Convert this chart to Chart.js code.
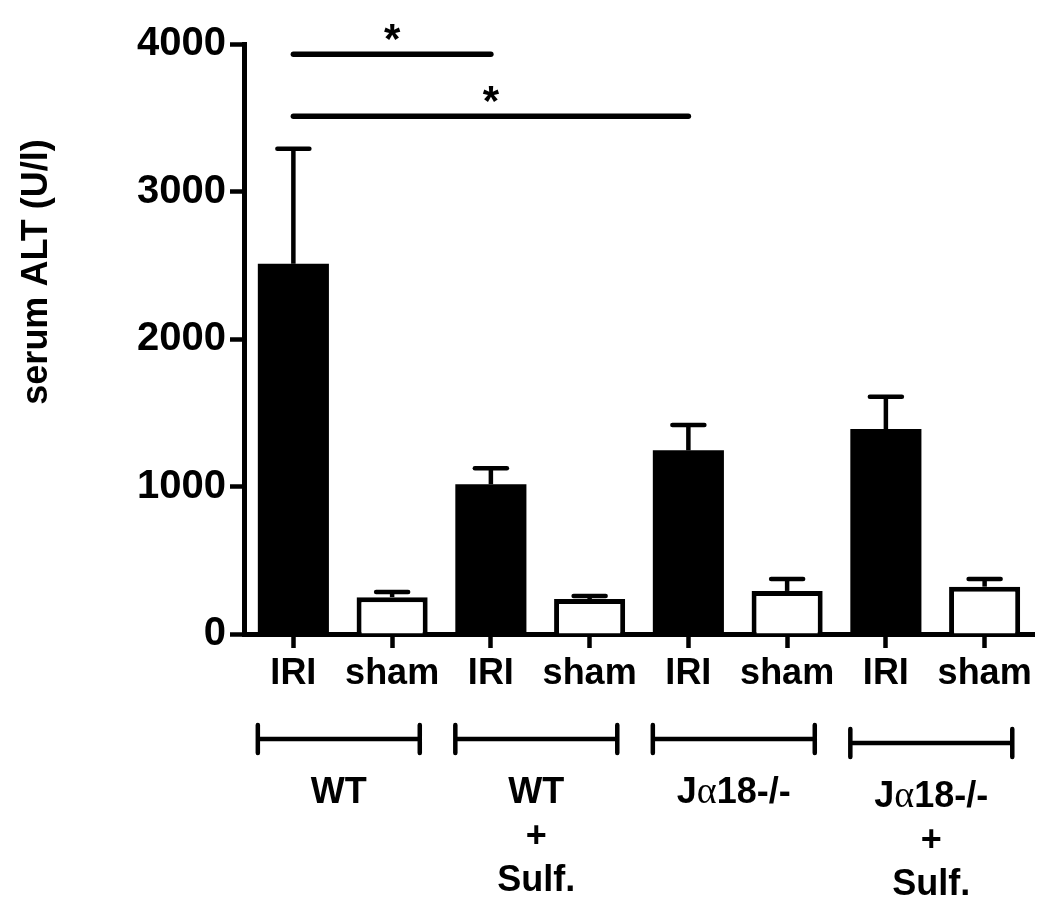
<!DOCTYPE html>
<html>
<head>
<meta charset="utf-8">
<script src="https://cdn.jsdelivr.net/npm/chart.js@4"></script>
<style>
  html, body { margin: 0; padding: 0; background: #fff; }
  canvas { display: block; }
</style>
</head>
<body>
<canvas id="altChart" width="1050" height="906"></canvas>
<script>
// bar labels, means and upper SEM of serum ALT
const categories = ['IRI', 'sham', 'IRI', 'sham', 'IRI', 'sham', 'IRI', 'sham'];
const meanALT = [2510, 250, 1015, 237, 1245, 292, 1390, 321];
const semALT = [780, 35, 108, 21, 172, 81, 219, 52];
const yTicks = [0, 1000, 2000, 3000, 4000];

// group brackets under the axis
const groupNames = [['WT'], ['WT', '+', 'Sulf.'], ['Jα18-/-'], ['Jα18-/-', '+', 'Sulf.']];
const groupStart = [0, 2, 4, 6];

// significance bars
const sigFrom = [0, 0];
const sigTo = [2, 4];
const sigLevel = [3930, 3510];
const sigMark = ['*', '*'];

const SANS = '"Liberation Sans", Arial, Helvetica, sans-serif';
const SERIF = '"Liberation Serif", "Times New Roman", serif';

// draws text, with a serif alpha where it appears (J\u03b118-/-)
function drawMixed(ctx, text, cx, baseline) {
  const parts = text.split(/(α)/).filter(p => p.length);
  const fonts = parts.map(p => p === 'α' ? '38px ' + SERIF : 'bold 36px ' + SANS);
  let total = 0;
  const widths = parts.map((p, i) => {
    ctx.font = fonts[i];
    const w = ctx.measureText(p).width;
    total += w;
    return w;
  });
  let x = cx - total / 2;
  ctx.textAlign = 'left';
  ctx.textBaseline = 'alphabetic';
  parts.forEach((p, i) => {
    ctx.font = fonts[i];
    ctx.fillText(p, x, baseline);
    x += widths[i];
  });
}

const extras = {
  id: 'extras',
  afterDatasetsDraw(chart) {
    const ctx = chart.ctx;
    const xs = chart.scales.x;
    const ys = chart.scales.y;
    const area = chart.chartArea;
    ctx.save();
    ctx.strokeStyle = '#000';
    ctx.fillStyle = '#000';

    // upper error bars
    ctx.lineWidth = 4.5;
    meanALT.forEach((m, i) => {
      const cx = xs.getPixelForValue(i);
      const base = ys.getPixelForValue(m);
      const top = ys.getPixelForValue(m + semALT[i]);
      ctx.lineCap = 'butt';
      ctx.beginPath();
      ctx.moveTo(cx, base);
      ctx.lineTo(cx, top);
      ctx.stroke();
      ctx.lineCap = 'round';
      ctx.beginPath();
      ctx.moveTo(cx - 16, top);
      ctx.lineTo(cx + 16, top);
      ctx.stroke();
    });

    // significance lines with stars
    ctx.lineWidth = 5.5;
    ctx.lineCap = 'round';
    sigLevel.forEach((lvl, i) => {
      const x1 = xs.getPixelForValue(sigFrom[i]);
      const x2 = xs.getPixelForValue(sigTo[i]);
      const yy = ys.getPixelForValue(lvl);
      ctx.beginPath();
      ctx.moveTo(x1, yy);
      ctx.lineTo(x2, yy);
      ctx.stroke();
      ctx.font = 'bold 42px ' + SANS;
      ctx.textAlign = 'center';
      ctx.textBaseline = 'alphabetic';
      ctx.fillText(sigMark[i], (x1 + x2) / 2, yy - 1);
    });

    // group brackets and names
    const step = xs.getPixelForValue(1) - xs.getPixelForValue(0);
    ctx.lineWidth = 4.5;
    groupStart.forEach((s, g) => {
      const drop = g === 3 ? 4 : 0;
      const left = xs.getPixelForValue(s) - 0.36 * step;
      const right = xs.getPixelForValue(s + 1) + 0.28 * step;
      const by = area.bottom + 105 + drop;
      ctx.beginPath();
      ctx.moveTo(left, by);
      ctx.lineTo(right, by);
      ctx.moveTo(left, by - 14);
      ctx.lineTo(left, by + 14);
      ctx.moveTo(right, by - 14);
      ctx.lineTo(right, by + 14);
      ctx.stroke();
      const mid = (left + right) / 2;
      groupNames[g].forEach((line, k) => {
        drawMixed(ctx, line, mid, by + 64 + k * 44);
      });
    });

    // y axis title
    ctx.translate(37, 272);
    ctx.rotate(-Math.PI / 2);
    ctx.font = 'bold 36px ' + SANS;
    ctx.textAlign = 'center';
    ctx.textBaseline = 'middle';
    ctx.fillText('serum ALT (U/l)', 0, 0);
    ctx.restore();
  }
};

new Chart(document.getElementById('altChart'), {
  type: 'bar',
  data: {
    labels: categories,
    datasets: [{
      data: meanALT,
      backgroundColor: categories.map(c => c === 'IRI' ? '#000' : '#fff'),
      borderColor: '#000',
      borderWidth: categories.map(c => c === 'IRI' ? 0 : 5),
      borderSkipped: 'start',
      barPercentage: 0.72,
      categoryPercentage: 1
    }]
  },
  options: {
    responsive: false,
    animation: false,
    layout: { padding: { left: 0, top: 44, right: 16, bottom: 202 } },
    plugins: {
      legend: { display: false },
      tooltip: { enabled: false },
      title: { display: false }
    },
    scales: {
      x: {
        offset: true,
        afterFit: s => { s.height = 70; },
        grid: {
          offset: false,
          drawOnChartArea: false,
          tickLength: 14,
          tickWidth: 4.5,
          tickColor: '#000'
        },
        border: { display: true, color: '#000', width: 5 },
        ticks: {
          color: '#000',
          font: { family: SANS, size: 36, weight: 'bold' },
          padding: 4,
          maxRotation: 0,
          autoSkip: false
        }
      },
      y: {
        min: 0,
        max: 4000,
        afterFit: s => { s.width = 244; },
        afterBuildTicks: s => { s.ticks = yTicks.map(v => ({ value: v })); },
        grid: {
          drawOnChartArea: false,
          tickLength: 14,
          tickWidth: 4.5,
          tickColor: '#000'
        },
        border: { display: true, color: '#000', width: 5 },
        ticks: {
          color: '#000',
          font: { family: SANS, size: 40, weight: 'bold' },
          padding: 4,
          callback: v => String(v)
        }
      }
    }
  },
  plugins: [extras]
});
</script>
</body>
</html>
